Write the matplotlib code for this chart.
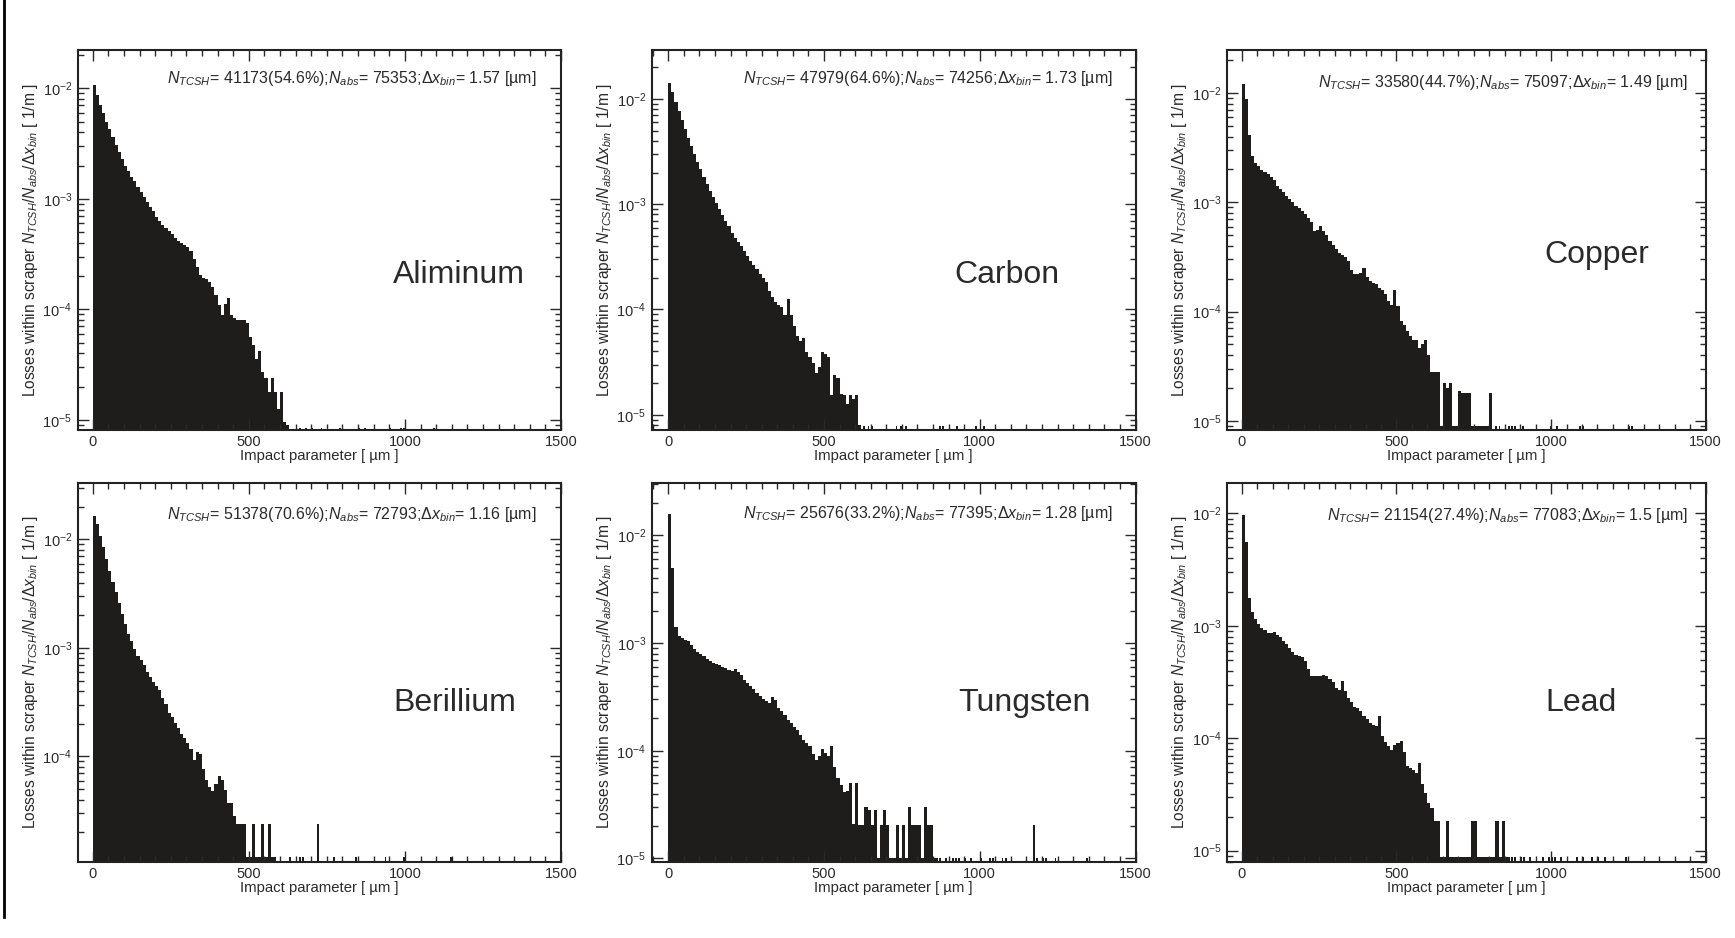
import numpy as np
import matplotlib
matplotlib.use("Agg")
import matplotlib.pyplot as plt
from matplotlib.ticker import MultipleLocator, LogLocator, NullFormatter
from matplotlib.lines import Line2D

plt.rcParams['font.family'] = ['Liberation Sans', 'DejaVu Sans']
plt.rcParams['mathtext.fontset'] = 'custom'
plt.rcParams['mathtext.rm'] = 'Liberation Sans'
plt.rcParams['mathtext.it'] = 'Liberation Sans:italic'
plt.rcParams['mathtext.bf'] = 'Liberation Sans:bold'

# panel info (order: top row left->right, bottom row left->right)
materials = ['Aliminum', 'Carbon', 'Copper', 'Berillium', 'Tungsten', 'Lead']
n_tcsh = [41173, 47979, 33580, 51378, 25676, 21154]
pct = ['54.6', '64.6', '44.7', '70.6', '33.2', '27.4']
n_abs = [75353, 74256, 75097, 72793, 77395, 77083]
dx_bin = ['1.57', '1.73', '1.49', '1.16', '1.28', '1.5']

# histogram heights, log10 of losses [1/m], 10 um bins starting at 0 um
bin_w = 10
al_log = [-1.97, -2.06, -2.15, -2.22, -2.30, -2.37, -2.44, -2.51, -2.58, -2.64,
          -2.70, -2.75, -2.80, -2.84, -2.89, -2.94, -2.98, -3.03, -3.07, -3.11,
          -3.16, -3.20, -3.24, -3.26, -3.29, -3.32, -3.35, -3.38, -3.40, -3.42,
          -3.44, -3.47, -3.54, -3.62, -3.69, -3.72, -3.73, -3.75, -3.80, -3.87,
          -3.96, -4.05, -3.95, -3.90, -4.05, -4.08, -4.10, -4.10, -4.10, -4.12,
          -4.25, -4.32, -4.45, -4.38, -4.57, -4.62, -4.75, -4.62, -4.75, -4.90,
          -4.75, -5.02, -5.05]
c_log = [-1.85, -1.93, -2.03, -2.11, -2.20, -2.29, -2.37, -2.45, -2.52, -2.60,
         -2.67, -2.74, -2.81, -2.87, -2.93, -2.99, -3.05, -3.10, -3.16, -3.21,
         -3.27, -3.32, -3.36, -3.40, -3.44, -3.49, -3.54, -3.58, -3.62, -3.66,
         -3.70, -3.74, -3.82, -3.88, -3.93, -3.96, -3.98, -4.05, -3.90, -4.05,
         -4.16, -4.25, -4.30, -4.27, -4.40, -4.45, -4.51, -4.60, -4.55, -4.40,
         -4.42, -4.45, -4.81, -4.62, -4.65, -4.80, -4.81, -4.90, -4.81, -4.85,
         -4.81, -5.10]
cu_log = [-1.92, -2.05, -2.38, -2.58, -2.64, -2.67, -2.70, -2.72, -2.74, -2.77,
          -2.80, -2.85, -2.88, -2.91, -2.94, -2.97, -3.00, -3.03, -3.05, -3.08,
          -3.11, -3.14, -3.18, -3.26, -3.25, -3.22, -3.26, -3.30, -3.35, -3.39,
          -3.43, -3.46, -3.48, -3.50, -3.54, -3.62, -3.66, -3.66, -3.65, -3.60,
          -3.68, -3.72, -3.74, -3.75, -3.78, -3.80, -3.84, -3.90, -3.94, -3.80,
          -3.95, -4.09, -4.12, -4.18, -4.22, -4.26, -4.26, -4.33, -4.30, -4.26,
          -4.40, -4.55, -4.55, -4.55, -5.05, -4.65, -4.70, -4.65, -5.05, -5.05,
          -4.73, -4.75, -4.75, -4.75, -5.05, -5.05, -5.05, -5.05, -5.05, -5.05,
          -4.75]
be_log = [-1.78, -1.86, -1.97, -2.07, -2.18, -2.29, -2.39, -2.48, -2.59, -2.69,
          -2.78, -2.87, -2.94, -3.01, -3.07, -3.11, -3.16, -3.22, -3.27, -3.31,
          -3.35, -3.39, -3.46, -3.52, -3.60, -3.64, -3.69, -3.74, -3.79, -3.83,
          -3.88, -3.93, -4.03, -3.96, -3.98, -4.12, -4.22, -4.28, -4.32, -4.25,
          -4.18, -4.22, -4.31, -4.43, -4.43, -4.55, -4.62, -4.62, -4.62, -4.93,
          -4.93, -4.62, -4.93, -4.93, -4.62, -4.93, -4.62, -4.93]
w_log = [-1.80, -2.30, -2.85, -2.93, -2.95, -2.97, -2.98, -3.02, -3.05, -3.08,
         -3.10, -3.12, -3.15, -3.17, -3.18, -3.19, -3.20, -3.22, -3.23, -3.25,
         -3.26, -3.24, -3.27, -3.30, -3.34, -3.37, -3.40, -3.43, -3.46, -3.49,
         -3.52, -3.54, -3.56, -3.50, -3.53, -3.60, -3.63, -3.67, -3.71, -3.74,
         -3.78, -3.81, -3.85, -3.90, -3.93, -3.96, -4.03, -4.09, -4.05, -3.98,
         -4.02, -4.05, -3.96, -4.15, -4.25, -4.32, -4.38, -4.37, -4.30, -4.68,
         -4.30, -4.69, -4.69, -4.52, -4.55, -4.69, -4.55, -5.00, -4.69, -4.55,
         -4.69, -5.00, -5.00, -4.69, -5.00, -4.69, -5.00, -4.52, -4.69, -4.69,
         -4.69, -5.00, -4.52, -4.69, -4.69, -5.00]
pb_log = [-2.01, -2.25, -2.75, -2.88, -2.94, -2.98, -3.02, -3.04, -3.06, -3.06,
          -3.05, -3.08, -3.10, -3.13, -3.16, -3.20, -3.23, -3.26, -3.27, -3.28,
          -3.31, -3.38, -3.45, -3.45, -3.45, -3.45, -3.44, -3.45, -3.47, -3.50,
          -3.55, -3.57, -3.49, -3.58, -3.64, -3.68, -3.72, -3.73, -3.76, -3.80,
          -3.83, -3.86, -3.88, -3.89, -3.80, -3.98, -4.03, -4.07, -4.10, -4.06,
          -4.04, -4.02, -4.12, -4.25, -4.26, -4.28, -4.31, -4.22, -4.41, -4.49,
          -4.58, -4.62, -4.74, -4.74, -5.06, -5.06, -4.74, -5.06, -5.06, -5.06,
          -5.06, -5.06, -5.06, -5.06, -4.74, -4.74, -5.06, -5.06, -5.06, -5.06,
          -5.06, -5.06, -4.74, -5.06, -4.74, -5.06]

# sparse entries in the far tail: position [um] and log10 height
al_tail_x = [650, 660, 680, 700, 730, 790, 850, 870, 950, 985, 995, 1090]
al_tail_log = [-5.07] * 12
c_tail_x = [625, 640, 650, 730, 745, 760, 870, 880, 925, 985, 1010]
c_tail_log = [-5.11] * 11
cu_tail_x = [820, 830, 860, 870, 880, 905, 995, 1015, 1090, 1100, 1250, 1260]
cu_tail_log = [-5.05] * 12
be_tail_x = [580, 630, 650, 660, 670, 718, 770, 840, 935, 995, 1145]
be_tail_log = [-4.93, -4.93, -4.93, -4.93, -4.93, -4.62, -4.93, -4.93, -4.93, -4.93, -4.93]
w_tail_x = [860, 870, 890, 900, 910, 920, 930, 950, 970, 1000, 1030, 1040,
            1070, 1080, 1170, 1180, 1200, 1210, 1240, 1250, 1340]
w_tail_log = [-5.0] * 14 + [-4.69] + [-5.0] * 6
pb_tail_x = [860, 870, 880, 900, 910, 930, 950, 970, 990, 1000, 1010, 1030,
             1050, 1080, 1100, 1130, 1150, 1170, 1240]
pb_tail_log = [-5.06] * 19

main_logs = [al_log, c_log, cu_log, be_log, w_log, pb_log]
tail_xs = [al_tail_x, c_tail_x, cu_tail_x, be_tail_x, w_tail_x, pb_tail_x]
tail_logs = [al_tail_log, c_tail_log, cu_tail_log, be_tail_log, w_tail_log, pb_tail_log]

# axis ranges (log10 of y limits)
ylims = [(-5.088, -1.657), (-5.14, -1.54), (-5.08, -1.61),
         (-4.97, -1.477), (-5.03, -1.51), (-5.098, -1.726)]

fig = plt.figure(figsize=(17.35, 9.38), dpi=100)

col_left = [77.7 / 1735, 651.7 / 1735, 1227 / 1735]
col_w = [483.3 / 1735, 483.8 / 1735, 478.7 / 1735]
row_bottom = [1 - 429.5 / 938, 1 - 861.7 / 938]
row_h = 379 / 938
x_left = [-48, -53, -48]
hdr_x = [0.950, 0.953, 0.962]
hdr_y = [0.926, 0.926, 0.915, 0.916, 0.92, 0.913]
lab_pos = [(0.789, 0.408), (0.735, 0.408), (0.773, 0.46),
           (0.78, 0.42), (0.77, 0.42), (0.74, 0.42)]

bar_col = '#1f1c1c'
txt_col = '#2a2a2a'

for i in range(6):
    r, c = divmod(i, 3)
    ax = fig.add_axes([col_left[c], row_bottom[r], col_w[c], row_h])
    ax.set_yscale('log')

    vals = 10 ** np.array(main_logs[i])
    edges = bin_w * np.arange(len(vals) + 1)
    ax.stairs(vals, edges, fill=True, baseline=1e-9, color=bar_col, lw=0)
    ax.bar(tail_xs[i], 10 ** np.array(tail_logs[i]), width=6, align='edge',
           bottom=1e-9, color=bar_col, linewidth=0)

    ax.set_xlim(x_left[c], 1500)
    ax.set_ylim(10 ** ylims[i][0], 10 ** ylims[i][1])

    ax.xaxis.set_major_locator(MultipleLocator(500))
    ax.xaxis.set_minor_locator(MultipleLocator(50))
    ax.yaxis.set_major_locator(LogLocator(base=10, numticks=10))
    ax.yaxis.set_minor_locator(LogLocator(base=10, subs=np.arange(2, 10), numticks=20))
    ax.yaxis.set_minor_formatter(NullFormatter())
    ax.tick_params(which='both', direction='in', top=True, right=True,
                   labelsize=10.5, colors=txt_col, width=1)
    ax.tick_params(which='major', length=8, pad=4)
    ax.tick_params(which='minor', length=4)
    for sp in ax.spines.values():
        sp.set_linewidth(1.5)
        sp.set_color('#222222')

    ax.set_xlabel('Impact parameter [ \u00b5m ]', fontsize=10.7, color=txt_col, labelpad=0)
    ax.set_ylabel('Losses within scraper $N_{TCSH}$/$N_{abs}$/$\\Delta x_{bin}$ [ 1/m ]',
                  fontsize=11.2, color=txt_col, labelpad=2)

    hdr = ('$N_{TCSH}$= %d(%s%%);$N_{abs}$= %d;$\\Delta x_{bin}$= %s [\u00b5m]'
           % (n_tcsh[i], pct[i], n_abs[i], dx_bin[i]))
    ax.text(hdr_x[c], hdr_y[i], hdr, transform=ax.transAxes, ha='right', va='center',
            fontsize=11.5, color=txt_col)
    ax.text(lab_pos[i][0], lab_pos[i][1], materials[i], transform=ax.transAxes,
            ha='center', va='center', fontsize=23, color=txt_col)

# left border line of the scanned page
fig.add_artist(Line2D([0.0022, 0.0022], [0.022, 1.0], transform=fig.transFigure,
                      color='black', lw=2))

fig.savefig('out.png', dpi=100)
